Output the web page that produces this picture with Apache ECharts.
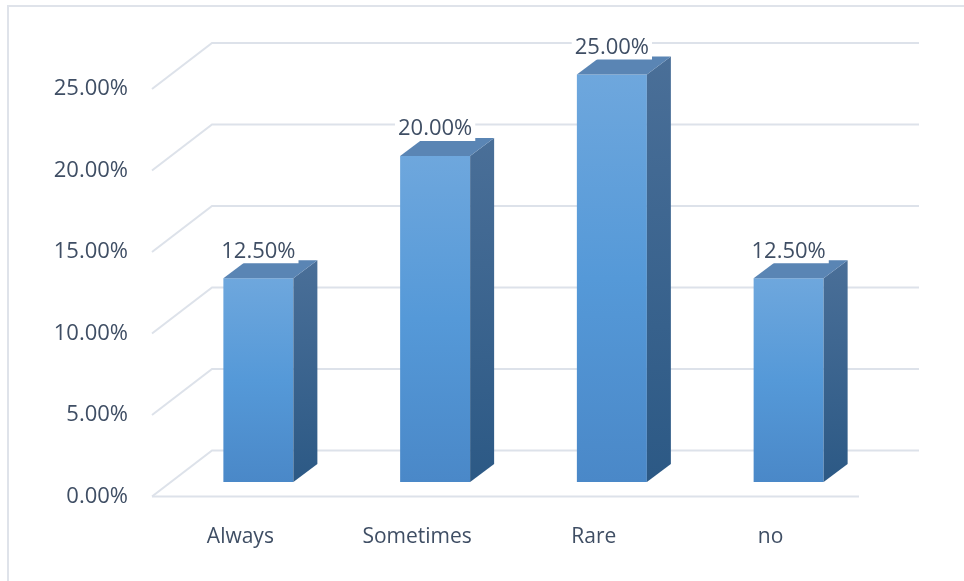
<!DOCTYPE html>
<html>
<head>
<meta charset="utf-8">
<script src="https://cdn.jsdelivr.net/npm/echarts@6/dist/echarts.min.js"></script>
<style>html,body{margin:0;padding:0;background:#fff}#c{width:964px;height:581px}</style>
</head>
<body>
<div id="c"></div>
<script>
var categories = ['Always', 'Sometimes', 'Rare', 'no'];
var values = [12.5, 20, 25, 12.5];
var yTicks = [0, 5, 10, 15, 20, 25];

var FONT = '"Open Sans", "Noto Sans", sans-serif';
var TEXT = '#3f4e64';
var GRID = '#dde2ea';
// depth offsets (pixels)
var WALL_DX = 60, WALL_DY = -46;
var BAR_DX = 18, BAR_DY = -14.5;
var SIDE_DX = 24, SIDE_DY = -18;
var BAR_W = 70;

var chart = echarts.init(document.getElementById('c'), null, {renderer: 'canvas'});

function gridRender(params, api) {
  var v = api.value(0);
  var cs = params.coordSys;
  var y = api.coord([0, v])[1];
  var left = cs.x, right = cs.x + cs.width;
  var children = [{
    type: 'polyline',
    shape: {points: [[left, y], [left + WALL_DX, y + WALL_DY], [right + WALL_DX, y + WALL_DY]]},
    style: {stroke: GRID, lineWidth: 2, fill: null}
  }];
  if (v === 0) {
    children.push({
      type: 'line',
      shape: {x1: left, y1: y, x2: right, y2: y},
      style: {stroke: GRID, lineWidth: 2}
    });
  }
  return {type: 'group', children: children};
}

function barRender(params, api) {
  var idx = api.value(0);
  var v = api.value(1);
  var top = api.coord([idx, v]);
  var base = api.coord([idx, 0]);
  var cx = top[0] + BAR_DX;
  var x0 = cx - BAR_W / 2, x1 = cx + BAR_W / 2;
  var yt = top[1] + BAR_DY, yb = base[1] + BAR_DY;
  var front = {
    type: 'rect',
    shape: {x: x0, y: yt, width: BAR_W, height: yb - yt},
    style: {fill: new echarts.graphic.LinearGradient(0, 0, 0, 1, [
      {offset: 0, color: '#6ea7dd'}, {offset: 0.5, color: '#5599d8'}, {offset: 1, color: '#4a88c8'}])}
  };
  var side = {
    type: 'polygon',
    shape: {points: [[x1, yt], [x1 + SIDE_DX, yt + SIDE_DY], [x1 + SIDE_DX, yb + SIDE_DY], [x1, yb]]},
    style: {fill: new echarts.graphic.LinearGradient(0, 0, 0, 1, [
      {offset: 0, color: '#4a6f98'}, {offset: 1, color: '#2c5985'}])}
  };
  var topFace = {
    type: 'polygon',
    shape: {points: [[x0, yt], [x0 + SIDE_DX, yt + SIDE_DY], [x1 + SIDE_DX, yt + SIDE_DY], [x1, yt]]},
    style: {fill: '#5a85b4'}
  };
  var label = {
    type: 'text',
    z2: 10,
    style: {
      text: v.toFixed(2) + '%',
      x: cx, y: yt - 27,
      align: 'center', verticalAlign: 'middle',
      font: '22px ' + FONT,
      fill: TEXT,
      backgroundColor: '#ffffff',
      padding: [1, 3]
    }
  };
  return {type: 'group', children: [front, side, topFace, label]};
}

chart.setOption({
  animation: false,
  backgroundColor: '#ffffff',
  graphic: [{
    type: 'rect',
    shape: {x: 8, y: 6, width: 1200, height: 1200},
    style: {fill: null, stroke: '#dfe3ea', lineWidth: 2},
    silent: true
  }],
  grid: {left: 152, right: 105, top: 89, bottom: 84.5, containLabel: false},
  xAxis: {
    type: 'category',
    data: categories,
    axisLine: {show: false},
    axisTick: {show: false},
    splitLine: {show: false},
    axisLabel: {color: TEXT, fontFamily: FONT, fontSize: 21, margin: 30}
  },
  yAxis: {
    type: 'value',
    min: 0, max: 25, interval: 5,
    axisLine: {show: false},
    axisTick: {show: false},
    splitLine: {show: false},
    axisLabel: {
      color: TEXT, fontFamily: FONT, fontSize: 22, margin: 24,
      formatter: function (v) { return v.toFixed(2) + '%'; }
    }
  },
  series: [{
    type: 'custom',
    renderItem: gridRender,
    data: yTicks.map(function (t) { return [t]; }),
    encode: {y: 0},
    z: 1,
    silent: true
  }, {
    type: 'custom',
    renderItem: barRender,
    data: values.map(function (v, i) { return [i, v]; }),
    encode: {x: 0, y: 1},
    z: 2
  }]
});
</script>
</body>
</html>
